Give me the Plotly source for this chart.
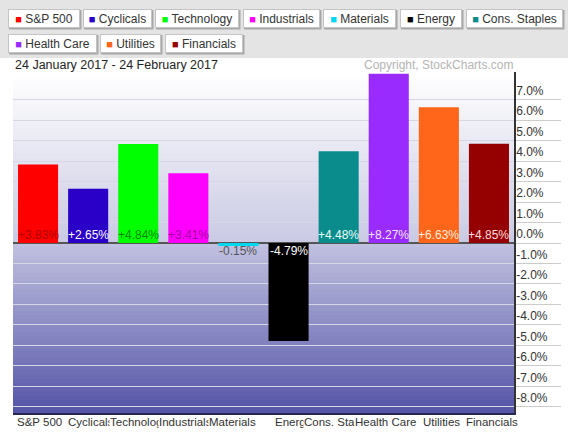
import plotly.graph_objects as go

# ---------------- data ----------------
categories = ["S&P 500", "Cyclicals", "Technology", "Industrials", "Materials",
              "Energy", "Cons. Staples", "Health Care", "Utilities", "Financials"]
changes = [3.83, 2.65, 4.84, 3.41, -0.15, -4.79, 4.48, 8.27, 6.63, 4.85]
tick_labels = ["S&P 500", "Cyclicals", "Technolog", "Industrials", "Materials",
               "Energ", "Cons. Sta", "Health Care", "Utilities", "Financials"]
y_ticks = list(range(-8, 8))
y_tick_labels = [f"{t:.1f}%" for t in y_ticks]
date_range = "24 January 2017 - 24 February 2017"
copyright_text = "Copyright, StockCharts.com"

# ---------------- styles ----------------
bar_colors = ["#ff0000", "#2a00c8", "#00ff00", "#ff00ff", "#00d8f0",
              "#000000", "#0a8c8c", "#9a2bff", "#ff6619", "#950000"]
label_colors = ["#b00000", "#ffffff", "#008a00", "#a800a8", "#555555",
                "#ffffff", "#e8ffff", "#f2e6ff", "#ffeadc", "#ffdcdc"]
FONT = "Arial, Liberation Sans, sans-serif"
# horizontal offset (px) of each category label's left edge from its bar centre
label_shift = [-22, -21, -29, -30, -30, -15, -36, -35, -17, -24]

W, H = 570, 435
PL, PR, PT, PB = 13, 514, 72, 413          # plot area in px
Y_MIN, Y_MAX = -8.3, 8.35


def px_x(px):
    return (px - PL) / (PR - PL)


def px_y(py):
    return (PB - py) / (PB - PT)


fig = go.Figure()
fig.add_trace(go.Bar(
    x=categories, y=changes, marker=dict(color=bar_colors, line=dict(width=0)),
    width=0.8, hoverinfo="skip", showlegend=False,
))

shapes = []
# background gradient (above zero: white -> lavender, below: lavender -> dark blue)
N = 40
ov = 0.25
for i in range(N):
    a0, a1 = Y_MAX * i / N, Y_MAX * (i + 1) / N
    f = i / (N - 1)
    c = [int(round(202 + (255 - 202) * f)), int(round(202 + (255 - 202) * f)),
         int(round(228 + (255 - 228) * f))]
    shapes.append(dict(type="rect", xref="paper", yref="y", x0=0, x1=1,
                       y0=a0, y1=min(a1 + ov, Y_MAX),
                       fillcolor=f"rgb({c[0]},{c[1]},{c[2]})", line=dict(width=0),
                       layer="below"))
for i in range(N):
    a0, a1 = Y_MIN * i / N, Y_MIN * (i + 1) / N
    f = i / (N - 1)
    c = [int(round(192 + (85 - 192) * f)), int(round(192 + (85 - 192) * f)),
         int(round(224 + (168 - 224) * f))]
    shapes.append(dict(type="rect", xref="paper", yref="y", x0=0, x1=1,
                       y0=max(a1 - ov, Y_MIN), y1=a0,
                       fillcolor=f"rgb({c[0]},{c[1]},{c[2]})", line=dict(width=0),
                       layer="below"))

# legend panel
shapes.append(dict(type="rect", xref="paper", yref="paper",
                   x0=px_x(0), x1=px_x(568), y0=px_y(58), y1=px_y(0),
                   fillcolor="#e4e4e4", line=dict(width=0), layer="below"))

annotations = []
# legend buttons
btn_boxes = [(8, 80, 9), (83, 152, 9), (155, 239, 9), (243, 320, 9), (323, 396, 9),
             (400, 462, 9), (466, 563, 9), (8, 97, 34), (100, 161, 34), (165, 243, 34)]
BTN_H = 19
for name, col, (l, r, t) in zip(categories, bar_colors, btn_boxes):
    shapes.append(dict(type="rect", xref="paper", yref="paper",
                       x0=px_x(l + 1), x1=px_x(r + 1.5), y0=px_y(t + BTN_H + 1.5), y1=px_y(t + 1),
                       fillcolor="#a8a8a8", line=dict(width=0), layer="above"))
    annotations.append(dict(
        xref="paper", yref="paper", x=px_x(l), y=px_y(t), xanchor="left", yanchor="top",
        text=f'<span style="color:{col};font-size:11px">■</span> {name}',
        showarrow=False, bgcolor="#ffffff", bordercolor="#c4c4c4", borderwidth=1,
        borderpad=1, width=r - l - 4, height=BTN_H - 4, align="center", valign="middle",
        font=dict(family=FONT, size=12, color="#333333"),
    ))

# date and copyright
annotations.append(dict(xref="paper", yref="paper", x=px_x(13), y=px_y(65),
                        xanchor="left", yanchor="middle", text=date_range, showarrow=False,
                        font=dict(family=FONT, size=12.5, color="#222222")))
annotations.append(dict(xref="paper", yref="paper", x=px_x(515), y=px_y(65),
                        xanchor="right", yanchor="middle", text=copyright_text, showarrow=False,
                        font=dict(family=FONT, size=12, color="#b4b4b4")))

# value labels at base of bars
for cat, v, lc in zip(categories, changes, label_colors):
    annotations.append(dict(
        x=cat, y=0, xref="x", yref="y", text=f"{v:+.2f}%", showarrow=False,
        xanchor="center", yanchor="bottom" if v > 0 else "top",
        font=dict(family=FONT, size=12, color=lc), borderpad=0,
    ))

# category labels under the plot (left-aligned; each one covers the overflow of the previous)
for cat, lab, sh in zip(categories, tick_labels, label_shift):
    annotations.append(dict(
        x=cat, y=0, xref="x", yref="paper", text=lab, showarrow=False,
        xanchor="left", yanchor="top", xshift=sh, yshift=-2, borderpad=0,
        bgcolor="#ffffff",
        font=dict(family=FONT, size=11.5, color="#333333"),
    ))

fig.update_layout(
    width=W, height=H,
    margin=dict(l=PL, r=W - PR, t=PT, b=H - PB, pad=0, autoexpand=False),
    paper_bgcolor="#ffffff", plot_bgcolor="rgba(0,0,0,0)",
    font=dict(family=FONT, size=12, color="#333333"),
    bargap=0.2, showlegend=False,
    shapes=shapes, annotations=annotations,
    xaxis=dict(range=[-0.5, 9.5], showticklabels=False, automargin=False,
               showgrid=False, showline=True, linecolor="#262650", linewidth=2,
               ticks="", fixedrange=True),
    yaxis=dict(range=[Y_MIN, Y_MAX], side="right", tickvals=y_ticks, ticktext=y_tick_labels,
               automargin=False,
               showgrid=True, gridcolor="#d6d6e6", gridwidth=1,
               zeroline=True, zerolinecolor="#555555", zerolinewidth=2,
               showline=True, linecolor="#333333", linewidth=1.5,
               ticks="outside", ticklen=45, tickcolor="#cccccc", tickwidth=1,
               ticklabelshift=-9, ticklabelstandoff=-47,
               tickfont=dict(size=12, color="#333333"), fixedrange=True),
)

fig.write_html("out.html", config={"displayModeBar": False},
               post_script="document.body.style.margin='0px';")
